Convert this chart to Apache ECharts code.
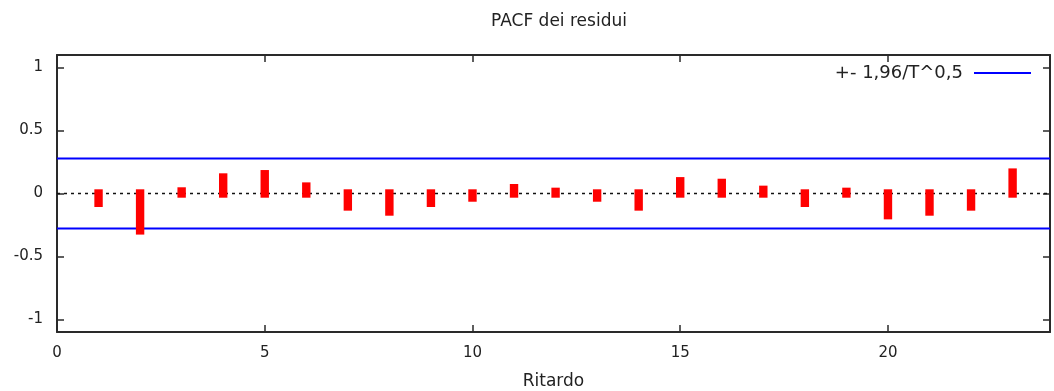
<!DOCTYPE html>
<html>
<head>
<meta charset="utf-8">
<title>PACF dei residui</title>
<script src="https://cdn.jsdelivr.net/npm/echarts@6/dist/echarts.min.js"></script>
<style>
  html, body { margin: 0; padding: 0; background: #fff; }
  #chart { width: 1054px; height: 391px; }
</style>
</head>
<body>
<div id="chart"></div>
<script>
// Partial autocorrelations of the residuals, lags 1..23
const lags = [1, 2, 3, 4, 5, 6, 7, 8, 9, 10, 11, 12, 13, 14, 15, 16, 17, 18, 19, 20, 21, 22, 23];
const pacf = [-0.074, -0.293, 0.016, 0.127, 0.153, 0.055, -0.103, -0.143, -0.074, -0.032,
              0.042, 0.013, -0.032, -0.103, 0.097, 0.084, 0.029, -0.074, 0.013, -0.172,
              -0.143, -0.103, 0.166];
// Confidence band: 1.96 / sqrt(T), T = 50
const bandLevel = 0.2772;
const bandName = '+- 1,96/T^0,5';
const xTicks = [0, 5, 10, 15, 20];
const yTicks = [-1, -0.5, 0, 0.5, 1];
const xMin = 0, xMax = 23.9;
const yMin = -1.1, yMax = 1.1;

const font = 'DejaVu Sans';
const ink = '#222';
const frame = { show: true, onZero: false, lineStyle: { color: '#2a2a2a', width: 2 } };
const tickIn = (vals) => ({ show: true, inside: true, length: 7, customValues: vals,
                            lineStyle: { color: '#2a2a2a', width: 1.5 } });

const chart = echarts.init(document.getElementById('chart'), null, { renderer: 'canvas' });

chart.setOption({
  animation: false,
  backgroundColor: '#fff',
  title: {
    text: 'PACF dei residui',
    left: 554, top: 8, textAlign: 'center',
    textStyle: { fontFamily: font, fontSize: 17, fontWeight: 'normal', color: ink }
  },
  legend: {
    data: [{ name: bandName, icon: 'rect' }],
    right: 23, top: 64,
    align: 'right',
    padding: 0,
    itemWidth: 57, itemHeight: 2,
    itemStyle: { color: '#0000ff', borderWidth: 0 },
    textStyle: { fontFamily: font, fontSize: 18, color: ink, padding: [0, 6, 0, 0] }
  },
  grid: { left: 57, right: 4, top: 55, bottom: 59, outerBoundsMode: 'none', containLabel: false },
  xAxis: [
    {
      type: 'value', min: xMin, max: xMax, position: 'bottom',
      name: 'Ritardo', nameLocation: 'middle', nameGap: 41,
      nameTextStyle: { fontFamily: font, fontSize: 17, color: ink },
      axisLine: frame, axisTick: tickIn(xTicks),
      axisLabel: { customValues: xTicks, margin: 14, fontFamily: font, fontSize: 15, color: ink },
      splitLine: { show: false }
    },
    {
      type: 'value', min: xMin, max: xMax, position: 'top',
      axisLine: frame, axisTick: tickIn(xTicks),
      axisLabel: { show: false }, splitLine: { show: false }
    }
  ],
  yAxis: [
    {
      type: 'value', min: yMin, max: yMax, position: 'left',
      axisLine: frame, axisTick: tickIn(yTicks),
      axisLabel: { customValues: yTicks, margin: 14, fontFamily: font, fontSize: 15, color: ink },
      splitLine: { show: false }
    },
    {
      type: 'value', min: yMin, max: yMax, position: 'right',
      axisLine: frame, axisTick: tickIn(yTicks),
      axisLabel: { show: false }, splitLine: { show: false }
    }
  ],
  series: [
    {
      // dotted zero reference
      type: 'line', silent: true, z: 1, symbol: 'none',
      data: [[xMin, 0], [xMax, 0]],
      lineStyle: { color: '#111', width: 1.6, type: [3, 4] }
    },
    {
      name: bandName, type: 'line', silent: true, z: 2, symbol: 'none',
      data: [[xMin, bandLevel], [xMax, bandLevel]],
      lineStyle: { color: '#0000ff', width: 2 }, itemStyle: { color: '#0000ff' }
    },
    {
      name: bandName, type: 'line', silent: true, z: 2, symbol: 'none',
      data: [[xMin, -bandLevel], [xMax, -bandLevel]],
      lineStyle: { color: '#0000ff', width: 2 }, itemStyle: { color: '#0000ff' }
    },
    {
      // impulses drawn as thick strokes with square ends
      type: 'custom', z: 3, silent: true,
      data: lags.map((l, i) => [l, pacf[i]]),
      renderItem: function (params, api) {
        const base = api.coord([api.value(0), 0]);
        const tip = api.coord([api.value(0), api.value(1)]);
        const half = 4.2;
        const top = Math.min(base[1], tip[1]) - half;
        const bottom = Math.max(base[1], tip[1]) + half;
        return {
          type: 'rect',
          shape: { x: base[0] - half, y: top, width: half * 2, height: bottom - top },
          style: { fill: '#ff0000' }
        };
      }
    }
  ]
});
</script>
</body>
</html>
